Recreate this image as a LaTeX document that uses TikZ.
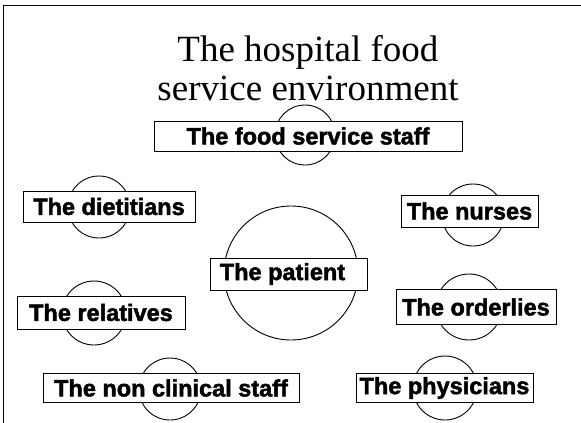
\documentclass[tikz,border=0pt]{standalone}
\usepackage{fontspec}
\setmainfont{Liberation Serif}
\newfontface\tagfont{Liberation Sans Bold}[FakeBold=2]
\usetikzlibrary{positioning}

\begin{document}
\begin{tikzpicture}[
    x=1pt, y=-1pt,
    ring/.style={draw, circle, line width=0.9pt, inner sep=0pt},
    tag/.style={draw, fill=white, line width=0.9pt, inner sep=0pt,
                font=\tagfont\fontsize{23.5}{25}\selectfont},
    heading/.style={font=\fontsize{37}{39.5}\selectfont, align=center},
]
\useasboundingbox (0,0) rectangle (581,423);

% === FRAME ===
\draw[line width=1.2pt] (600,5.5) -- (3.5,5.5) -- (3.5,440);

% === TITLE ===
\node[heading] (title) at (308,68) {The hospital food\\service environment};

% === RINGS ===
\node[ring, minimum size=60pt]  (food-ring)  at (305,135) {};
\node[ring, minimum size=62pt]  (diet-ring)  at (99,207)  {};
\node[ring, minimum size=62pt]  (nurse-ring) at (473,215) {};
\node[ring, minimum size=134pt] (pat-ring)   at (291,273) {};
\node[ring, minimum size=64pt]  (rel-ring)   at (94,313)  {};
\node[ring, minimum size=66pt]  (ord-ring)   at (469,307) {};
\node[ring, minimum size=62pt]  (nonc-ring)  at (170,389) {};
\node[ring, minimum size=64pt]  (phys-ring)  at (445,388) {};

% === GROUPS ===
\node[tag, minimum width=308pt, minimum height=30pt] (food)  at (308,136)   {The food service staff};
\node[tag, minimum width=172pt, minimum height=31pt] (diet)  at (109,206.5) {The dietitians};
\node[tag, minimum width=137pt, minimum height=32pt] (nurse) at (469.5,211) {The nurses};
\node[tag, minimum width=157pt, minimum height=32pt] (pat)   at (288.5,274) {\hspace{-12pt}The patient};
\node[tag, minimum width=168pt, minimum height=33pt] (rel)   at (101,312.5) {The relatives};
\node[tag, minimum width=160pt, minimum height=35pt] (ord)   at (476,307)   {The orderlies};
\node[tag, minimum width=256pt, minimum height=29pt] (nonc)  at (171,388)   {The non clinical staff};
\node[tag, minimum width=177pt, minimum height=29pt] (phys)  at (444.5,388) {The physicians};

\end{tikzpicture}
\end{document}
